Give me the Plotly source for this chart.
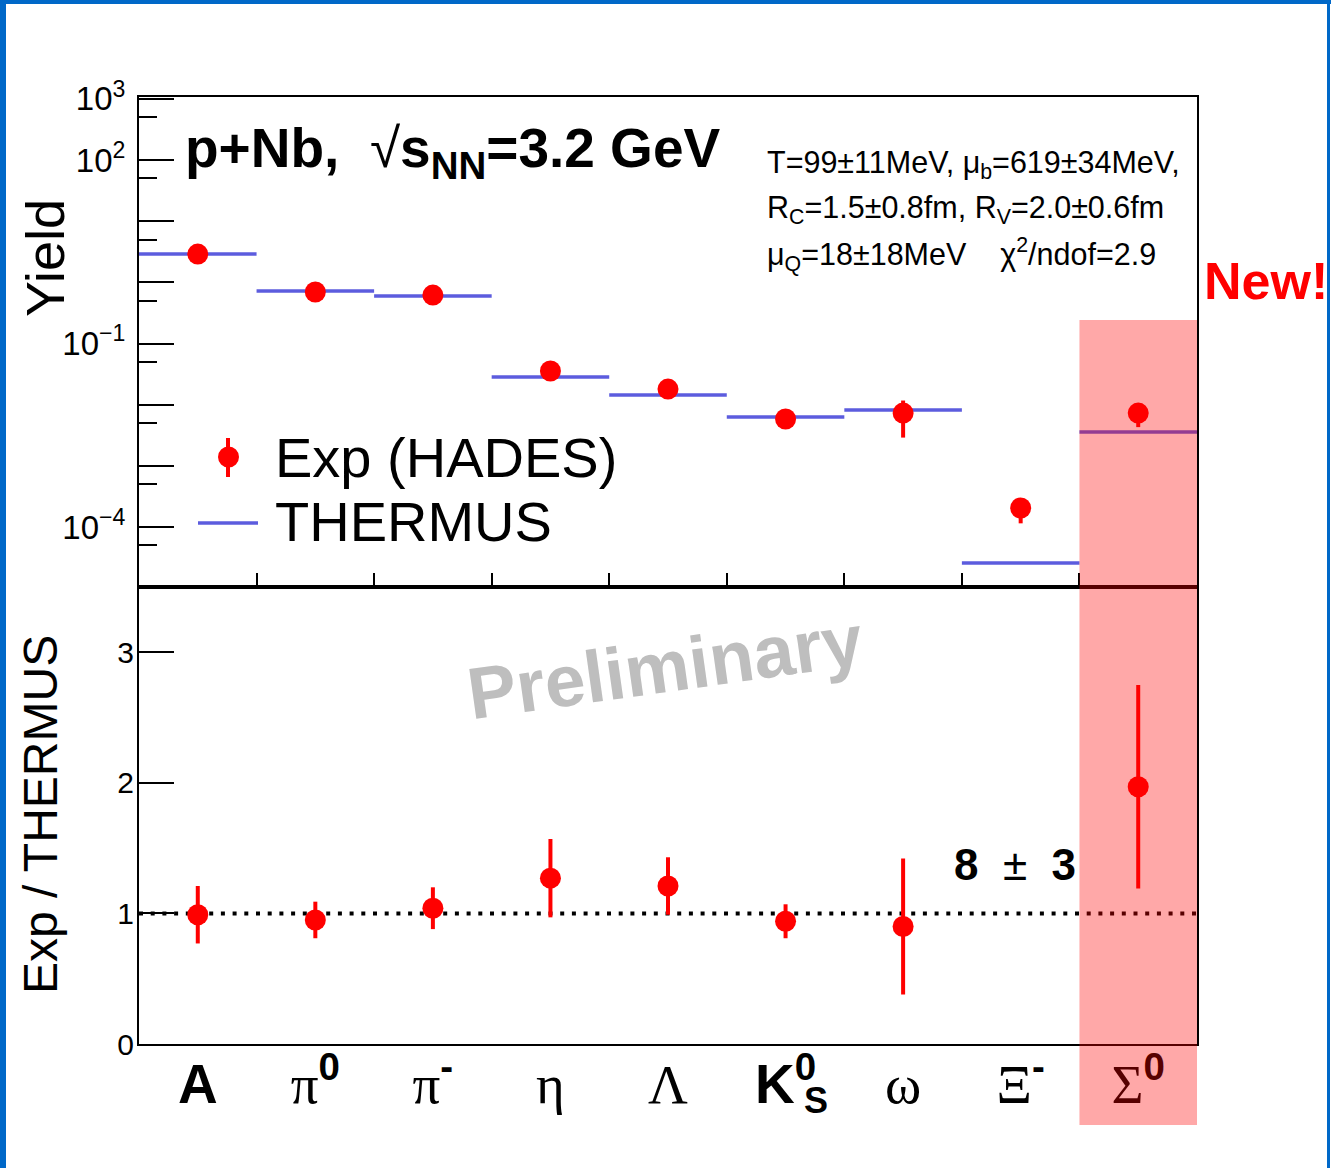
import plotly.graph_objects as go

W, H = 1331, 1168

# ---------------- data ----------------
categories = ["A", "π0", "π-", "η", "Λ", "K0S", "ω", "Ξ-", "Σ0"]
tick_labels = [
    '<span style="font-family:Liberation Sans"><b>A</b></span>',
    'π<sup><span style="font-family:Liberation Sans"><b>0</b></span></sup>',
    'π<sup><span style="font-family:Liberation Sans"><b>-</b></span></sup>',
    'η',
    'Λ',
    '<span style="font-family:Liberation Sans"><b>K<sup>0</sup></b></span>',
    'ω',
    'Ξ<sup><span style="font-family:Liberation Sans"><b>-</b></span></sup>',
    'Σ<sup><span style="font-family:Liberation Sans"><b>0</b></span></sup>',
]
yield_exp = [2.9, 0.695, 0.62, 0.0356, 0.018, 0.00583, 0.0073, 2.05e-4, 0.0073]
yield_exp_err = [0.64, 0.10, 0.095, 0.0086, 0.0033, 0.0008, 0.0044, 0.9e-4, 0.0030]
yield_thermus = [2.9, 0.72, 0.60, 0.0283, 0.0144, 0.0063, 0.0082, 2.58e-5, 0.00357]
ratio = [0.99, 0.95, 1.04, 1.27, 1.21, 0.94, 0.90, None, 1.97]
ratio_err = [0.22, 0.14, 0.16, 0.30, 0.22, 0.13, 0.52, 0.0, 0.78]

top_tickvals = [1e-4, 1e-3, 1e-2, 1e-1, 1e0, 1e1, 1e2, 1e3]
top_ticktext = ["10<sup>−4</sup>", "", "", "10<sup>−1</sup>", "", "", "10<sup>2</sup>", "10<sup>3</sup>"]
top_minorvals = [5e-5, 5e-4, 5e-3, 5e-2, 5e-1, 5e0, 5e1, 5e2]
bot_tickvals = [0, 1, 2, 3]
bot_ticktext = ["0", "1", "2", "3"]

# ---------------- helpers (layout only) ----------------
def px(x):
    return x / W

def py(y):
    return 1 - y / H

xi = list(range(len(categories)))
edges = [i + 0.5 for i in xi[:-1]]

th_x, th_y = [], []
for i, v in zip(xi, yield_thermus):
    th_x += [i - 0.5, i + 0.5, None]
    th_y += [v, v, None]

RED = "rgb(255,0,0)"
BLUE = "rgb(92,92,222)"
SANS = "Liberation Sans"
SERIF = "Liberation Serif"

fig = go.Figure()

# top panel
fig.add_trace(go.Scatter(x=th_x, y=th_y, mode="lines", line=dict(color=BLUE, width=3.5),
                         xaxis="x2", yaxis="y2", showlegend=False, hoverinfo="skip"))
fig.add_trace(go.Scatter(x=xi, y=yield_exp, mode="markers",
                         marker=dict(color=RED, size=21),
                         error_y=dict(type="data", array=yield_exp_err, color=RED, thickness=4, width=0),
                         xaxis="x2", yaxis="y2", showlegend=False))

# bottom panel
fig.add_trace(go.Scatter(x=[-0.5, 8.5], y=[1, 1], mode="lines",
                         line=dict(color="black", width=4, dash="4px,7.7px"),
                         xaxis="x", yaxis="y", showlegend=False, hoverinfo="skip"))
fig.add_trace(go.Scatter(x=xi, y=ratio, mode="markers",
                         marker=dict(color=RED, size=21),
                         error_y=dict(type="data", array=ratio_err, color=RED, thickness=4, width=0),
                         xaxis="x", yaxis="y", showlegend=False))

xdom = [px(139), px(1197)]
common_line = dict(showline=True, linecolor="black", linewidth=2, mirror=True,
                   showgrid=False, zeroline=False, automargin=False)

fig.update_layout(
    template="none",
    width=W, height=H, margin=dict(l=0, r=0, t=0, b=0, pad=0, autoexpand=False),
    paper_bgcolor="white", plot_bgcolor="white",
    font=dict(family=SANS, color="black"),
    showlegend=False,
    xaxis=dict(domain=xdom, anchor="y", range=[-0.5, 8.5], tickmode="array",
               tickvals=xi, ticktext=tick_labels, ticks="",
               tickfont=dict(family=SERIF, size=55, color="black"),
               ticklabelstandoff=-9, **common_line),
    yaxis=dict(domain=[py(1044), py(587)], anchor="x", range=[0, 3.5],
               tickmode="array", tickvals=bot_tickvals, ticktext=bot_ticktext,
               ticks="inside", ticklen=35, tickwidth=1.5, tickcolor="black",
               tickfont=dict(family=SANS, size=30, color="black"),
               ticklabelstandoff=-3, **common_line),
    xaxis2=dict(domain=xdom, anchor="y2", range=[-0.5, 8.5], tickmode="array",
                tickvals=edges, ticks="inside", ticklen=14, tickwidth=1.5, tickcolor="black",
                showticklabels=False, **common_line),
    yaxis2=dict(domain=[py(587), py(97)], anchor="x2", type="log", range=[-4.98, 3.03],
                tickmode="array", tickvals=top_tickvals, ticktext=top_ticktext,
                ticks="inside", ticklen=35, tickwidth=1.5, tickcolor="black",
                minor=dict(tickmode="array", tickvals=top_minorvals, ticks="inside",
                           ticklen=18, tickwidth=1.5, tickcolor="black", showgrid=False),
                tickfont=dict(family=SANS, size=33, color="black"),
                ticklabelstandoff=5, **common_line),
)

shapes = []
# highlight band for the new measurement
shapes.append(dict(type="rect", xref="x", yref="paper", x0=7.5, x1=8.5,
                   y0=py(1125), y1=py(320), fillcolor="rgba(255,0,0,0.34)",
                   line=dict(width=0), layer="above"))
# legend keys
shapes.append(dict(type="line", xref="paper", yref="paper", x0=px(228), x1=px(228),
                   y0=py(477), y1=py(438), line=dict(color=RED, width=4)))
shapes.append(dict(type="circle", xref="paper", yref="paper", x0=px(218), x1=px(239),
                   y0=py(467.5), y1=py(446.5), fillcolor=RED, line=dict(width=0)))
shapes.append(dict(type="line", xref="paper", yref="paper", x0=px(198), x1=px(258),
                   y0=py(523), y1=py(523), line=dict(color=BLUE, width=3.5)))
# slide frame
FRAME = "rgb(0,104,200)"
shapes.append(dict(type="rect", xref="paper", yref="paper", x0=0, x1=px(6), y0=0, y1=1,
                   fillcolor=FRAME, line=dict(width=0)))
shapes.append(dict(type="rect", xref="paper", yref="paper", x0=0, x1=1, y0=py(4), y1=1,
                   fillcolor=FRAME, line=dict(width=0)))
shapes.append(dict(type="rect", xref="paper", yref="paper", x0=px(1327), x1=px(1330), y0=0, y1=1,
                   fillcolor=FRAME, line=dict(width=0)))
fig.update_layout(shapes=shapes)

ann = []
def add(text, x, y, size, xanchor="center", yanchor="middle", color="black", angle=0, family=SANS):
    ann.append(dict(text=text, x=px(x), y=py(y), xref="paper", yref="paper", showarrow=False,
                    xanchor=xanchor, yanchor=yanchor, textangle=angle,
                    font=dict(size=size, color=color, family=family)))

add("<b>p+Nb,  </b>√<b>s<sub>NN</sub>=3.2 GeV</b>", 183, 152, 55, xanchor="left")
add("T=99±11MeV, μ<sub>b</sub>=619±34MeV,", 765, 164, 30.5, xanchor="left")
add("R<sub>C</sub>=1.5±0.8fm, R<sub>V</sub>=2.0±0.6fm", 765, 209, 30.5, xanchor="left")
add("μ<sub>Q</sub>=18±18MeV    χ<sup>2</sup>/ndof=2.9", 765, 254, 30.5, xanchor="left")
add("<b>New!</b>", 1266, 281, 52, color=RED)
add("Exp (HADES)", 273, 457, 56, xanchor="left")
add("THERMUS", 273, 521, 56, xanchor="left")
add("<b>Preliminary</b>", 665, 666, 73, color="rgb(190,190,190)", angle=-8)
add("<b>8</b>  ±  <b>3</b>", 1015, 864, 44)
add("Yield", 45, 258, 54, angle=-90)
add("Exp / THERMUS", 40, 815, 48, angle=-90)
# stacked subscript of K0S
ann.append(dict(text="<b>S</b>", x=5, xref="x", y=py(1100), yref="paper", xshift=30,
                xanchor="center", yanchor="middle",
                showarrow=False, font=dict(size=36, family=SANS, color="black")))
fig.update_layout(annotations=ann)

fig.write_html("out.html")
